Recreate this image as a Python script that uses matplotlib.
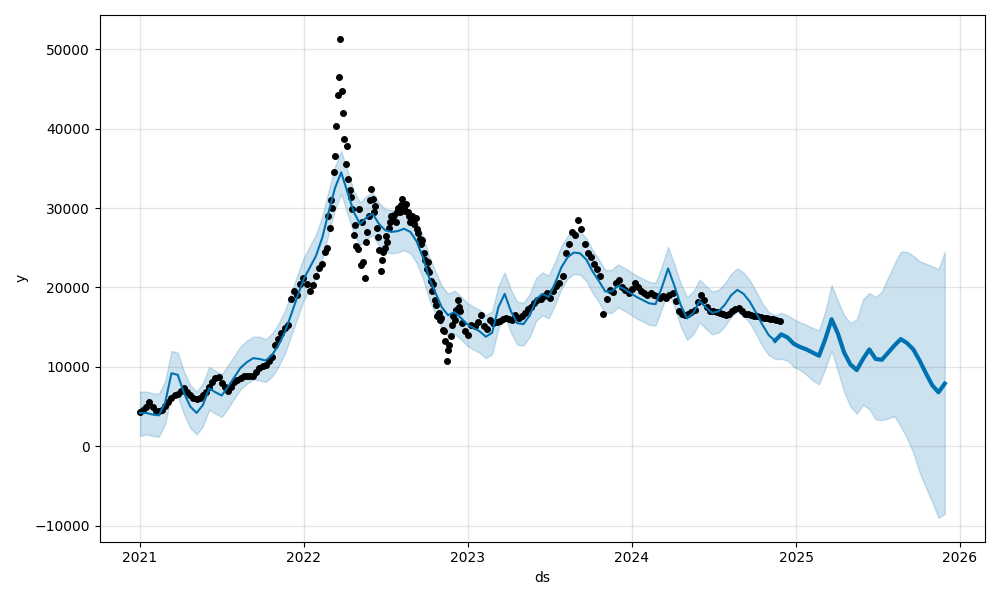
import matplotlib.pyplot as plt
import numpy as np
import pandas as pd

# observed values, in thousands
obs_weekly_2021 = [
    4.3, 4.6, 5.0, 5.6, 5.0, 4.5, 4.4, 4.6, 5.1, 5.6,
    6.1, 6.4, 6.6, 7.0, 7.3, 6.8, 6.4, 6.1, 6.0, 6.1,
    6.5, 6.9, 7.5, 8.1, 8.6, 8.7, 8.0, 7.5, 7.0, 7.5,
    8.1, 8.4, 8.6, 8.8, 8.9, 8.9, 8.8, 9.4, 9.9, 10.1,
    10.3, 10.7, 11.3, 12.8, 13.5, 14.3, 14.9, 15.3, 18.6, 19.6,
    19.0, 20.5, 21.2, 20.4, 19.5, 20.3, 21.5, 22.5, 23.0, 24.5,
]
obs_3day_2022 = [
    25.0, 29.0, 27.5, 31.0, 30.0, 34.5, 36.5, 40.3, 44.2, 46.5,
    51.3, 44.8, 42.0, 38.7, 35.6, 37.8, 33.7, 32.3, 31.4, 29.9,
    26.6, 27.9, 25.2, 24.8, 29.9, 22.8, 28.2, 23.2, 21.2, 25.7,
    27.0, 29.0, 31.0, 32.4, 31.2, 29.5, 30.2, 27.5, 26.3, 24.7,
    22.1, 23.5, 24.5, 25.0, 26.5, 25.7, 27.5, 28.2, 29.0, 28.5,
    29.1, 28.3, 29.5, 30.0, 29.5, 30.4, 31.2, 30.0, 29.6, 30.5,
    29.5, 29.0, 28.3, 29.0, 28.6, 28.0, 28.8, 27.4, 26.8, 26.1,
    25.5, 26.0, 24.4, 23.5, 22.3, 23.2, 22.0, 20.8, 19.5, 20.5,
    18.4, 17.8, 16.4, 16.8, 15.9, 16.2, 14.6, 14.5, 13.2, 10.8,
    12.1, 12.8, 13.9, 15.3, 16.4, 15.9, 17.2, 18.4, 17.5, 17.0,
]
obs_weekly_2023 = [
    15.5, 14.5, 14.0, 15.3, 15.1, 15.7, 16.5, 15.1, 14.8, 15.9,
    15.5, 15.7, 15.8, 16.0, 16.2, 16.0, 15.9, 16.5, 16.2, 16.4,
    16.8, 17.3, 17.6, 18.0, 18.4, 18.6, 18.9, 19.3, 18.7, 19.6,
    20.2, 20.6, 21.5, 24.3, 25.5, 27.0, 26.6, 28.5, 27.4, 25.5,
    24.4, 23.8, 23.0, 22.3, 21.5, 16.6, 18.6, 19.7, 19.4, 20.6,
    21.0, 20.0, 19.7, 19.3, 19.8, 20.6, 20.0, 19.6, 19.3, 19.1,
    19.3, 19.1, 18.9, 18.7, 18.9, 18.7, 19.0, 19.3, 18.3, 17.0,
    16.6, 16.5, 16.7, 16.9, 17.2, 18.2, 19.1, 18.4, 17.5, 17.1,
    17.0, 16.9, 16.8, 16.6, 16.5, 16.7, 17.0, 17.3, 17.4, 17.0,
    16.7, 16.6, 16.5, 16.4, 16.4, 16.3, 16.2, 16.1, 16.0, 16.0,
    15.9, 15.8,
]

# forecast every 14 days, in thousands
yhat = [
    4.2, 4.2, 4.0, 3.9, 5.5, 9.2, 9.0, 6.7, 5.0, 4.2,
    5.2, 7.3, 6.8, 6.4, 7.5, 8.7, 9.9, 10.6, 11.1, 11.0,
    10.8, 11.5, 12.7, 14.3, 16.5, 18.8, 21.0, 22.5, 24.0, 26.3,
    29.5, 32.5, 34.5, 32.0, 29.5, 28.0, 28.8, 29.3, 28.0, 27.2,
    27.0, 27.1, 27.4, 27.0, 25.8, 23.8, 21.2, 19.3, 17.5, 16.5,
    16.9, 16.2, 15.4, 14.9, 14.5, 13.8, 14.3, 17.5, 19.2, 17.0,
    15.5, 15.4, 16.5, 18.5, 19.2, 18.8, 20.5, 22.5, 23.8, 24.4,
    24.3, 23.5, 22.0, 20.8, 19.5, 19.5, 20.2, 19.8, 19.3, 18.8,
    18.4, 18.0, 17.9, 20.0, 22.4, 20.2, 17.8, 16.1, 16.8, 18.3,
    17.5, 16.8, 17.0, 17.8, 19.0, 19.7, 19.2, 18.2, 16.8, 15.3,
    14.0, 13.3, 14.1, 13.7, 12.9, 12.5, 12.2, 11.8, 11.4, 13.5,
    16.0, 14.2, 11.8, 10.3, 9.6, 11.0, 12.2, 11.0, 10.9, 11.8,
    12.7, 13.5, 13.0, 12.2, 10.8, 9.2, 7.7, 6.8, 7.9,
]
yhat_upper = [
    6.9, 6.9, 6.7, 6.6, 8.2, 12.0, 11.8, 9.4, 7.7, 6.9,
    7.9, 10.0, 9.5, 9.1, 10.2, 11.4, 12.6, 13.3, 13.8, 13.8,
    13.5, 14.2, 15.4, 17.0, 19.2, 21.5, 23.7, 25.2, 26.7, 29.0,
    32.2, 35.2, 37.2, 34.7, 32.2, 30.7, 31.5, 32.0, 30.7, 29.9,
    29.7, 29.8, 30.1, 29.7, 28.5, 26.5, 23.9, 22.0, 20.2, 19.2,
    19.6, 18.9, 18.1, 17.6, 17.2, 16.5, 17.0, 20.2, 21.9, 19.7,
    18.2, 18.1, 19.2, 21.2, 21.9, 21.5, 23.2, 25.2, 26.5, 27.1,
    27.0, 26.2, 24.7, 23.5, 22.2, 22.2, 22.9, 22.5, 22.0, 21.5,
    21.1, 20.7, 20.6, 22.7, 25.1, 22.9, 20.5, 18.8, 19.5, 21.0,
    20.2, 19.5, 19.7, 20.5, 21.7, 22.4, 21.9, 20.9, 19.5, 18.0,
    16.9, 16.5, 16.8, 16.5, 16.0, 15.6, 15.3, 14.9, 14.6, 17.0,
    20.3, 18.3, 16.5, 15.5, 16.0, 18.5, 19.3, 18.8, 19.5, 21.3,
    23.0, 24.5, 24.5, 24.0, 23.3, 23.0, 22.7, 22.3, 24.5,
]
yhat_lower = [
    1.3, 1.5, 1.3, 1.2, 2.8, 6.5, 6.3, 4.0, 2.3, 1.5,
    2.5, 4.6, 4.1, 3.7, 4.8, 6.0, 7.2, 7.9, 8.4, 8.3,
    8.1, 8.8, 10.0, 11.6, 13.8, 16.1, 18.3, 19.8, 21.3, 23.6,
    26.8, 29.8, 31.8, 29.3, 26.8, 25.3, 26.1, 26.6, 25.3, 24.5,
    24.3, 24.4, 24.7, 24.3, 23.1, 21.1, 18.5, 16.6, 14.8, 13.8,
    14.2, 13.5, 12.7, 12.2, 11.8, 11.1, 11.6, 14.8, 16.5, 14.3,
    12.8, 12.7, 13.8, 15.8, 16.5, 16.1, 17.8, 19.8, 21.1, 21.7,
    21.6, 20.8, 19.3, 18.1, 16.8, 16.8, 17.5, 17.1, 16.6, 16.1,
    15.7, 15.3, 15.2, 17.3, 19.7, 17.5, 15.1, 13.4, 14.1, 15.6,
    14.8, 14.1, 14.3, 15.1, 16.3, 17.0, 16.5, 15.5, 14.1, 12.6,
    11.5, 11.0, 11.0, 10.8, 10.0, 9.6, 9.0, 8.3, 7.8, 9.8,
    12.0, 9.5, 6.8, 5.0, 4.1, 5.2, 4.7, 3.4, 3.3, 3.5,
    3.8, 2.5, 1.0, -0.8, -3.3, -5.2, -7.0, -9.0, -8.5,
]

obs_ds = pd.DatetimeIndex(
    list(pd.date_range("2021-01-01", periods=len(obs_weekly_2021), freq="7D"))
    + list(pd.date_range("2022-02-21", periods=len(obs_3day_2022), freq="3D"))
    + list(pd.date_range("2022-12-19", periods=len(obs_weekly_2023), freq="7D"))
)
obs_y = np.array(obs_weekly_2021 + obs_3day_2022 + obs_weekly_2023) * 1000

fcst_ds = pd.date_range("2021-01-01", periods=len(yhat), freq="14D")
fcst_y = np.array(yhat) * 1000
fcst_lo = np.array(yhat_lower) * 1000
fcst_hi = np.array(yhat_upper) * 1000
last_obs = obs_ds[-1]
future = fcst_ds >= last_obs - pd.Timedelta(days=14)

fig, ax = plt.subplots(figsize=(10, 6), dpi=100)
ax.plot(obs_ds, obs_y, "k.", ms=8, label="Observed data points")
ax.plot(fcst_ds, fcst_y, ls="-", c="#0072B2", lw=1.5, label="Forecast")
ax.plot(fcst_ds[future], fcst_y[future], ls="-", c="#0072B2", lw=3)
ax.fill_between(fcst_ds, fcst_lo, fcst_hi, color="#0072B2", alpha=0.2,
                label="Uncertainty interval")
ax.grid(True, which="major", c="gray", ls="-", lw=1, alpha=0.2)
ax.set_xlabel("ds")
ax.set_ylabel("y")
fig.tight_layout()
fig.savefig("out.png")
